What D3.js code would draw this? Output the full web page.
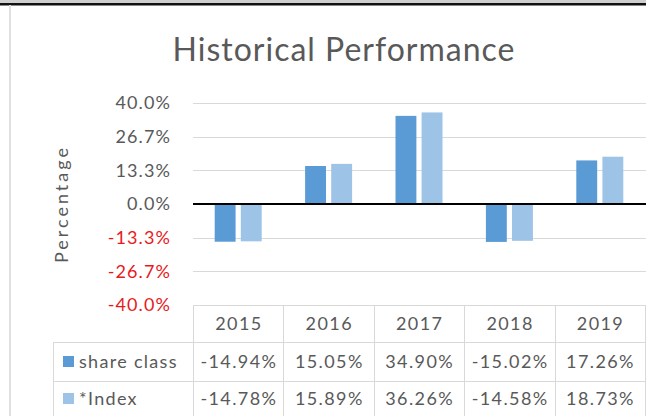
<!DOCTYPE html>
<html>
<head>
<meta charset="utf-8">
<script src="https://cdn.jsdelivr.net/npm/d3@7"></script>
<style>
  html, body { margin: 0; padding: 0; background: #fff; }
  svg { display: block; }
  text { font-family: Lato, "Open Sans", sans-serif; }
</style>
</head>
<body>
<svg id="chart" width="646" height="416"></svg>
<script>
const years = ["2015", "2016", "2017", "2018", "2019"];
const seriesNames = ["share class", "*Index"];
const shareClass = [-14.94, 15.05, 34.90, -15.02, 17.26];
const indexValues = [-14.78, 15.89, 36.26, -14.58, 18.73];
const tickValues = [40.0, 26.7, 13.3, 0.0, -13.3, -26.7, -40.0];
const colors = ["#5b9bd5", "#9dc3e6"];
const seriesValues = [shareClass, indexValues];

const W = 646, H = 416;
const svg = d3.select("#chart");
const plotLeft = 193, plotRight = 645, plotTop = 103, plotBottom = 305;
const gray = "#595959", gridColor = "#d9d9d9";
const loc = d3.formatLocale({ decimal: ".", thousands: ",", grouping: [3], currency: ["", ""], minus: "-" });
const f1 = loc.format(".1f"), f2 = loc.format(".2f");

// frame
svg.append("rect").attr("x", 0).attr("y", 0).attr("width", W).attr("height", 3).attr("fill", "#cfcfcf");
svg.append("rect").attr("x", 0).attr("y", 3).attr("width", W).attr("height", 2.5).attr("fill", "#111");
svg.append("rect").attr("x", 9).attr("y", 5).attr("width", 2).attr("height", H - 5).attr("fill", "#e0e0e0");

// title
svg.append("text").attr("x", 344).attr("y", 61).attr("text-anchor", "middle")
  .attr("font-size", 32).attr("letter-spacing", 1).attr("fill", gray).text("Historical Performance");

const x0 = d3.scaleBand().domain(years).range([plotLeft, plotRight]).paddingInner(0).paddingOuter(0);
const x1 = d3.scaleBand().domain(seriesNames).range([-23.5, 23.5]).paddingInner(0.2);
const y = d3.scaleLinear().domain([-40, 40]).range([plotBottom, plotTop]);

// gridlines
svg.append("g").selectAll("line").data(tickValues).join("line")
  .attr("x1", plotLeft).attr("x2", W)
  .attr("y1", d => Math.round(y(d)) + 0.5).attr("y2", d => Math.round(y(d)) + 0.5)
  .attr("stroke", gridColor).attr("stroke-width", 1);

// y axis labels
const yAxis = d3.axisLeft(y).tickValues(tickValues).tickSize(0).tickPadding(0)
  .tickFormat(d => f1(d) + "%");
const gy = svg.append("g").attr("transform", `translate(171,0)`).call(yAxis);
gy.select(".domain").remove();
gy.selectAll("text").attr("font-size", 18).attr("letter-spacing", 1.1).attr("font-family", "Lato, sans-serif")
  .attr("fill", d => d < 0 ? "#e8191c" : gray);

// y title
svg.append("text").attr("transform", "translate(68,204) rotate(-90)")
  .attr("text-anchor", "middle").attr("font-size", 18).attr("letter-spacing", 3)
  .attr("fill", gray).text("Percentage");

// bars
const groups = svg.append("g").selectAll("g").data(years).join("g")
  .attr("transform", d => `translate(${x0(d) + x0.bandwidth() / 2},0)`);
groups.selectAll("rect").data((d, i) => seriesNames.map((s, j) => ({ s, v: seriesValues[j][i], c: colors[j] })))
  .join("rect")
  .attr("x", d => x1(d.s))
  .attr("width", x1.bandwidth())
  .attr("y", d => y(Math.max(0, d.v)))
  .attr("height", d => Math.abs(y(d.v) - y(0)))
  .attr("fill", d => d.c);

// zero line
svg.append("line").attr("x1", plotLeft).attr("x2", W).attr("y1", y(0)).attr("y2", y(0))
  .attr("stroke", "#000").attr("stroke-width", 2);

// data table
const rowTops = [305, 342, 381, 420];
const legendLeft = 53;
const tbl = svg.append("g");
tbl.append("line").attr("x1", plotLeft).attr("x2", plotRight).attr("y1", rowTops[0] + 0.5).attr("y2", rowTops[0] + 0.5)
  .attr("stroke", gridColor);
[rowTops[1], rowTops[2]].forEach(yy => {
  tbl.append("line").attr("x1", legendLeft).attr("x2", plotRight).attr("y1", yy + 0.5).attr("y2", yy + 0.5)
    .attr("stroke", gridColor);
});
const colEdges = years.map(d => x0(d)).concat([plotRight]);
colEdges.forEach(xx => {
  tbl.append("line").attr("x1", Math.round(xx) + 0.5).attr("x2", Math.round(xx) + 0.5)
    .attr("y1", rowTops[0]).attr("y2", H).attr("stroke", gridColor);
});
tbl.append("line").attr("x1", legendLeft + 0.5).attr("x2", legendLeft + 0.5)
  .attr("y1", rowTops[1]).attr("y2", H).attr("stroke", gridColor);

// header
tbl.selectAll("text.yr").data(years).join("text").attr("class", "yr")
  .attr("x", d => x0(d) + x0.bandwidth() / 2 + 0.7).attr("y", (rowTops[0] + rowTops[1]) / 2)
  .attr("dy", "0.35em").attr("text-anchor", "middle").attr("font-size", 18).attr("letter-spacing", 1.4)
  .attr("fill", gray).text(d => d);

// rows
seriesNames.forEach((s, j) => {
  const cy = (rowTops[j + 1] + rowTops[j + 2]) / 2 - (j === 1 ? 2 : 0);
  tbl.append("rect").attr("x", 63).attr("y", cy - 5.5).attr("width", 11).attr("height", 11).attr("fill", colors[j]);
  tbl.append("text").attr("x", 79).attr("y", cy).attr("dy", "0.35em").attr("font-size", 18)
    .attr("letter-spacing", 1.3).attr("fill", gray).text(s);
  tbl.selectAll("text.v" + j).data(seriesValues[j]).join("text").attr("class", "v" + j)
    .attr("x", (d, i) => x0(years[i]) + x0.bandwidth() / 2 + 0.7).attr("y", cy)
    .attr("dy", "0.35em").attr("text-anchor", "middle").attr("font-size", 18).attr("letter-spacing", 1.4)
    .attr("fill", gray).text(d => f2(d) + "%");
});
</script>
</body>
</html>
